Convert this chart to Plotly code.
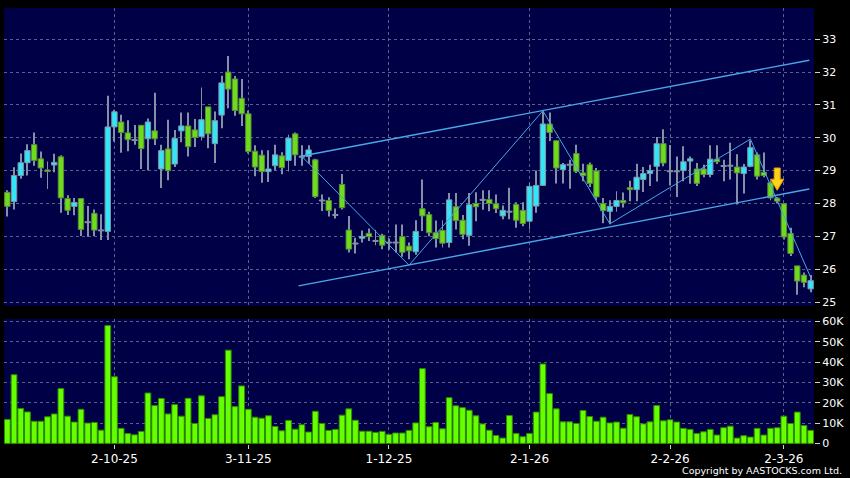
import plotly.graph_objects as go

# ---------------- data ----------------
opens = [28.34, 28.06, 28.85, 29.24, 29.79, 29.36, 29.02, 29.17, 29.42, 28.15,
         27.91, 28.15, 27.43, 27.70, 27.18, 27.15, 30.33, 30.48, 30.15, 29.93,
         30.38, 29.97, 30.21, 29.05, 29.66, 29.20, 30.21, 30.36, 30.24, 30.04,
         30.94, 29.82, 30.69, 32.00, 31.79, 31.20, 30.73, 29.59, 29.47, 28.97,
         29.15, 29.45, 29.31, 30.12, 29.42, 29.43, 29.33, 28.09, 28.09, 27.65,
         28.58, 27.19, 26.78, 26.94, 27.09, 26.86, 27.03, 26.81, 26.81, 26.99,
         26.70, 26.53, 27.84, 27.66, 27.11, 27.18, 26.81, 27.90, 27.49, 27.03,
         28.00, 28.11, 28.12, 27.99, 27.62, 27.75, 27.97, 27.79, 27.46, 27.92,
         28.55, 30.42, 29.91, 29.03, 29.18, 29.52, 28.93, 29.18, 28.99, 28.00,
         27.76, 27.91, 28.09, 28.48, 28.42, 28.73, 28.91, 29.13, 29.82, 28.98,
         28.98, 29.00, 29.29, 29.05, 29.05, 28.88, 29.35, 29.14, 29.15, 29.11,
         28.91, 29.13, 29.48, 28.95, 28.63, 28.16, 27.99, 27.09, 26.10, 25.82,
         25.40]
highs = [28.40, 29.10, 29.52, 29.80, 30.16, 29.58, 29.28, 29.51, 29.47, 28.25,
         28.17, 28.17, 27.92, 27.82, 27.67, 31.28, 30.85, 30.70, 30.53, 30.39,
         30.38, 30.59, 31.37, 29.79, 30.55, 30.24, 30.77, 30.77, 30.57, 31.53,
         30.94, 30.80, 31.89, 32.49, 31.88, 31.79, 30.83, 29.77, 29.62, 29.62,
         29.79, 29.56, 30.09, 30.16, 29.77, 29.77, 29.36, 28.27, 28.19, 27.85,
         28.90, 27.62, 26.96, 27.18, 27.24, 27.19, 27.08, 26.93, 27.36, 27.36,
         26.81, 27.49, 28.73, 27.75, 27.48, 27.49, 28.32, 28.32, 27.65, 28.32,
         28.34, 28.40, 28.40, 28.27, 27.94, 28.48, 28.04, 28.04, 28.63, 29.00,
         30.80, 30.77, 29.92, 29.23, 29.33, 29.79, 29.21, 29.25, 29.08, 28.17,
         28.10, 28.37, 28.33, 28.69, 29.21, 29.11, 29.18, 30.02, 30.26, 29.78,
         29.43, 29.74, 29.43, 29.23, 29.18, 29.77, 29.77, 29.33, 29.85, 29.50,
         29.20, 29.92, 29.55, 29.55, 28.70, 28.20, 28.00, 27.26, 26.10, 25.90,
         25.82]
lows = [27.60, 27.82, 28.75, 28.85, 29.15, 28.78, 28.44, 28.95, 27.72, 27.65,
        27.64, 27.01, 26.99, 27.01, 26.89, 26.89, 29.89, 29.54, 29.59, 29.79,
        29.05, 29.01, 29.78, 28.47, 28.71, 29.11, 29.86, 29.43, 29.72, 29.92,
        29.68, 29.23, 30.29, 30.90, 30.67, 30.36, 29.52, 28.83, 28.63, 28.65,
        29.01, 28.89, 28.97, 29.15, 29.15, 29.21, 28.17, 27.77, 27.60, 27.54,
        27.82, 26.51, 26.48, 26.81, 26.86, 26.73, 26.61, 26.59, 26.51, 26.38,
        26.30, 26.44, 27.16, 27.00, 26.66, 26.66, 26.66, 27.21, 26.91, 26.71,
        27.46, 27.81, 27.76, 27.71, 27.52, 27.52, 27.26, 27.31, 27.21, 27.72,
        28.53, 29.90, 28.61, 28.61, 28.45, 28.93, 28.68, 28.50, 28.10, 27.40,
        27.37, 27.75, 27.88, 28.07, 28.07, 28.35, 28.53, 28.67, 29.13, 28.55,
        28.20, 28.68, 28.60, 28.53, 28.80, 28.80, 29.20, 28.68, 28.73, 27.97,
        28.30, 29.10, 28.73, 28.80, 28.10, 28.00, 26.90, 26.40, 25.22, 25.45,
        25.30]
closes = [27.91, 28.85, 29.24, 29.61, 29.31, 29.08, 28.97, 29.25, 28.17, 27.79,
          28.03, 27.21, 27.43, 27.19, 27.18, 30.33, 30.79, 30.16, 29.94, 29.93,
          29.67, 30.48, 29.97, 29.61, 29.00, 29.98, 30.36, 29.73, 30.01, 30.55,
          30.12, 30.52, 31.67, 31.48, 30.83, 30.73, 29.58, 29.11, 28.97, 29.05,
          29.48, 29.09, 29.99, 29.48, 29.42, 29.63, 28.21, 28.09, 27.79, 27.65,
          27.87, 26.61, 26.78, 27.00, 26.99, 26.86, 26.73, 26.81, 26.81, 26.51,
          26.56, 27.15, 27.62, 27.11, 26.93, 26.79, 28.11, 27.48, 27.06, 27.96,
          27.90, 28.11, 28.00, 27.84, 27.79, 27.75, 27.49, 27.39, 28.52, 28.55,
          30.42, 30.16, 29.08, 29.18, 29.18, 28.98, 28.85, 28.61, 28.20, 27.78,
          27.91, 28.09, 28.02, 28.42, 28.80, 28.91, 29.00, 29.82, 29.23, 28.98,
          28.98, 29.27, 29.36, 28.61, 28.88, 29.35, 29.27, 29.14, 29.15, 28.93,
          29.11, 29.70, 28.83, 28.85, 28.17, 28.07, 26.98, 26.48, 25.64, 25.60,
          25.65]
volume_k = [11.8, 33.8, 17.2, 15.5, 10.9, 10.9, 13.1, 14.5, 27.0, 13.4,
            10.5, 16.8, 10.0, 10.3, 6.5, 58.0, 32.8, 7.4, 4.9, 4.2,
            5.9, 24.8, 18.6, 22.1, 14.5, 19.1, 13.4, 22.2, 9.8, 23.4,
            12.3, 14.1, 23.0, 45.9, 18.1, 28.3, 16.8, 12.9, 12.4, 13.6,
            8.3, 6.2, 11.3, 7.0, 9.2, 5.6, 15.8, 9.8, 6.4, 6.9,
            13.9, 17.0, 11.4, 6.0, 6.0, 5.4, 5.9, 4.4, 5.1, 5.1,
            6.4, 10.1, 36.8, 8.2, 10.3, 7.2, 22.5, 18.5, 17.6, 16.3,
            13.6, 9.6, 6.5, 3.9, 2.6, 13.7, 4.9, 3.3, 4.9, 15.4,
            39.1, 24.5, 17.0, 10.6, 10.6, 9.8, 16.2, 13.2, 10.9, 12.9,
            10.1, 10.5, 7.5, 14.2, 13.1, 9.6, 10.6, 18.6, 11.1, 11.6,
            10.5, 7.4, 6.9, 4.9, 5.7, 6.9, 4.1, 7.7, 8.5, 2.6,
            3.8, 3.1, 7.4, 4.1, 7.4, 7.7, 13.4, 9.8, 15.4, 8.8,
            6.4]
idx = list(range(len(opens)))

tick_idx = [16, 36, 57, 78, 99, 116]
tick_labels = ["2-10-25", "3-11-25", "1-12-25", "2-1-26", "2-2-26", "2-3-26"]
price_ticks = [25, 26, 27, 28, 29, 30, 31, 32, 33]
vol_ticks = [0, 10, 20, 30, 40, 50, 60]
vol_tick_labels = ["0", "10K", "20K", "30K", "40K", "50K", "60K"]

zigzag_idx = [44, 60, 80, 90, 111, 120]
zigzag_px = [29.43, 26.12, 30.82, 27.38, 29.96, 25.75]
upper_idx = [43.6, 119.8]
upper_px = [29.43, 32.36]
lower_idx = [43.5, 119.8]
lower_px = [25.49, 28.44]
signal_idx = 115
signal_tip = 28.40
signal_top = 29.08

# ---------------- styles ----------------
BG = "#000000"
PLOT_BG = "#000046"
GRID = "#59618a"
UP = "#33e6f5"
DOWN = "#6cdc1c"
WICK = "#8391a6"
UP_EDGE = "#7f95a8"
DOWN_EDGE = "#5e8a3a"
LINE = "#4aa6e6"
FONT = "DejaVu Sans"
MIN_BODY = 0.03   # minimal drawn body height (price units) so dojis stay visible

fig = go.Figure()

# wicks (thin bars from low to high)
fig.add_trace(go.Bar(x=idx, base=lows, y=[h - l for h, l in zip(highs, lows)],
                     width=0.14, marker=dict(color=WICK, line=dict(width=0)),
                     showlegend=False, hoverinfo="skip", xaxis="x", yaxis="y"))

# bodies
body_base, body_len, body_fill, body_edge = [], [], [], []
for o, c in zip(opens, closes):
    lo, hi = min(o, c), max(o, c)
    ln = max(hi - lo, MIN_BODY)
    body_base.append((lo + hi) / 2 - ln / 2)
    body_len.append(ln)
    if c > o:
        body_fill.append(UP); body_edge.append(UP_EDGE)
    elif c < o:
        body_fill.append(DOWN); body_edge.append(DOWN_EDGE)
    else:
        body_fill.append(WICK); body_edge.append(WICK)
fig.add_trace(go.Bar(x=idx, base=body_base, y=body_len, width=0.8,
                     marker=dict(color=body_fill, line=dict(color=body_edge, width=1)),
                     showlegend=False, hoverinfo="skip", xaxis="x", yaxis="y"))

# channel & zigzag
for xs, ys, w in [(upper_idx, upper_px, 1.4), (lower_idx, lower_px, 1.4),
                  (zigzag_idx, zigzag_px, 1.0)]:
    fig.add_trace(go.Scatter(x=xs, y=ys, mode="lines",
                             line=dict(color=LINE, width=w),
                             showlegend=False, hoverinfo="skip",
                             xaxis="x", yaxis="y"))

# volume
fig.add_trace(go.Bar(x=idx, y=volume_k, width=0.86,
                     marker=dict(color="#66ff00", line=dict(color="#2e8c00", width=1)),
                     showlegend=False, hoverinfo="skip", xaxis="x2", yaxis="y2"))

# signal arrow (down)
hb = signal_tip + 0.5 * (signal_top - signal_tip)
sx = signal_idx
path = (f"M {sx-0.45},{signal_top} L {sx+0.45},{signal_top} L {sx+0.45},{hb} "
        f"L {sx+1.0},{hb} L {sx},{signal_tip} L {sx-1.0},{hb} L {sx-0.45},{hb} Z")
fig.add_shape(type="path", path=path, xref="x", yref="y",
              fillcolor="#ffd21c", line=dict(color="#e39a00", width=1))

n = len(idx)
axis_common = dict(showline=False, zeroline=False, gridcolor=GRID, griddash="dot",
                   gridwidth=1)

fig.update_layout(
    width=850, height=478,
    margin=dict(l=4, r=36, t=6, b=34),
    paper_bgcolor=BG, plot_bgcolor=PLOT_BG,
    font=dict(family=FONT, color="#ffffff", size=11),
    barmode="overlay",
    xaxis=dict(domain=[0, 1], anchor="y", range=[-0.5, n - 0.5],
               tickvals=tick_idx, ticktext=tick_labels, showticklabels=False,
               ticks="", showgrid=True, **axis_common),
    yaxis=dict(domain=[0.3166, 1], anchor="x", side="right",
               range=[24.88, 33.95], tickvals=price_ticks,
               ticks="outside", ticklen=5, tickcolor="#cfcfcf",
               tickfont=dict(size=11, color="#ffffff", family=FONT),
               showgrid=True, **axis_common),
    xaxis2=dict(domain=[0, 1], anchor="y2", range=[-0.5, n - 0.5],
                tickvals=tick_idx, ticktext=tick_labels, showticklabels=True,
                ticks="outside", ticklen=4, tickcolor="#cfcfcf",
                tickfont=dict(size=12, color="#ffffff", family=FONT),
                showgrid=True, **axis_common),
    yaxis2=dict(domain=[0, 0.287], anchor="x2", side="right",
                range=[-0.3, 61.3], tickvals=vol_ticks, ticktext=vol_tick_labels,
                ticks="outside", ticklen=5, tickcolor="#cfcfcf",
                tickfont=dict(size=11, color="#ffffff", family=FONT),
                showgrid=True, **axis_common),
)

fig.add_annotation(text="Copyright by AASTOCKS.com Ltd.", xref="paper", yref="paper",
                   x=1.037, y=-0.0615, xanchor="right", yanchor="middle",
                   showarrow=False, font=dict(family=FONT, size=9.5, color="#ffffff"))

fig.write_html("out.html", config={"displayModeBar": False},
               post_script="document.body.style.margin='0';document.body.style.overflow='hidden';")
